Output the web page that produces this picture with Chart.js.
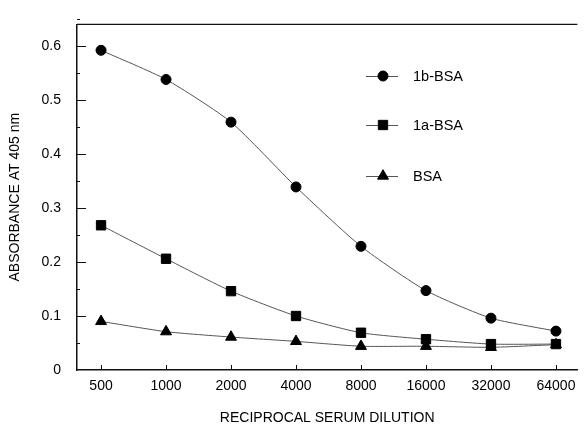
<!DOCTYPE html>
<html lang="en">
<head>
    <meta charset="UTF-8">
    <title>Absorbance vs Serum Dilution</title>
    <script src="https://cdn.jsdelivr.net/npm/chart.js"></script>
    <style>
        body { margin: 0; background: #fff; }
    </style>
</head>
<body>

    <canvas id="absChart" width="585" height="427"></canvas>

    <script>
        // Data
        var dilutions = ['500', '1000', '2000', '4000', '8000', '16000', '32000', '64000'];
        var seriesNames = ['1b-BSA', '1a-BSA', 'BSA'];
        var vals1b = [0.592, 0.538, 0.459, 0.339, 0.229, 0.147, 0.096, 0.072];
        var vals1a = [0.268, 0.206, 0.146, 0.100, 0.069, 0.057, 0.048, 0.048];
        var valsBsa = [0.090, 0.071, 0.061, 0.053, 0.044, 0.044, 0.042, 0.047];
        var yTicks = [0, 0.1, 0.2, 0.3, 0.4, 0.5, 0.6];
        var yTickLabels = ['0', '0.1', '0.2', '0.3', '0.4', '0.5', '0.6'];

        var FONT = '"Liberation Sans", Arial, sans-serif';

        function toPoints(arr) {
            return arr.map(function (v, i) { return { x: i, y: v }; });
        }

        // Inward tick marks, minor ticks and the top frame line
        var frameTicks = {
            id: 'frameTicks',
            afterDraw: function (chart) {
                var ctx = chart.ctx;
                var area = chart.chartArea;
                var xs = chart.scales.x, ys = chart.scales.y;
                ctx.save();
                ctx.strokeStyle = '#111';
                ctx.lineWidth = 1.2;
                ctx.beginPath();
                ctx.moveTo(area.left, area.top);
                ctx.lineTo(area.right, area.top);
                ctx.stroke();

                ctx.lineWidth = 1;
                ctx.beginPath();
                yTicks.forEach(function (v, i) {
                    var py = Math.round(ys.getPixelForValue(v)) + 0.5;
                    if (i > 0) {
                        ctx.moveTo(area.left, py);
                        ctx.lineTo(area.left + 9, py);
                    }
                    var pm = Math.round(ys.getPixelForValue(v + 0.05)) + 0.5;
                    ctx.moveTo(area.left, pm);
                    ctx.lineTo(area.left + 3, pm);
                });
                dilutions.forEach(function (d, i) {
                    var px = Math.round(xs.getPixelForValue(i)) + 0.5;
                    ctx.moveTo(px, area.bottom);
                    ctx.lineTo(px, area.bottom - 5);
                });
                ctx.stroke();
                ctx.restore();
            }
        };

        // Legend drawn inside the plot area
        var innerLegend = {
            id: 'innerLegend',
            afterDraw: function (chart) {
                var ctx = chart.ctx;
                var rows = [76, 125, 176];
                ctx.save();
                chart.data.datasets.forEach(function (ds, i) {
                    var y = rows[i];
                    ctx.strokeStyle = '#555';
                    ctx.lineWidth = 1;
                    ctx.beginPath();
                    ctx.moveTo(366, y + 0.5);
                    ctx.lineTo(398, y + 0.5);
                    ctx.stroke();
                    ctx.fillStyle = '#000';
                    ctx.strokeStyle = '#000';
                    Chart.helpers.drawPoint(ctx, {
                        pointStyle: ds.pointStyle,
                        radius: ds.pointRadius,
                        borderWidth: 1,
                        rotation: 0
                    }, 383, y);
                    ctx.fillStyle = '#000';
                    ctx.font = '14.5px ' + FONT;
                    ctx.textAlign = 'left';
                    ctx.textBaseline = 'middle';
                    ctx.fillText(ds.label, 413, y + 1);
                });
                ctx.restore();
            }
        };

        var lineStyle = {
            borderColor: '#555',
            borderWidth: 1,
            pointBackgroundColor: '#000',
            pointBorderColor: '#000',
            pointBorderWidth: 1,
            tension: 0.2,
            fill: false
        };

        var ctx = document.getElementById('absChart').getContext('2d');
        var myChart = new Chart(ctx, {
            type: 'line',
            data: {
                datasets: [
                    Object.assign({ label: seriesNames[0], data: toPoints(vals1b), pointStyle: 'circle', pointRadius: 5 }, lineStyle),
                    Object.assign({ label: seriesNames[1], data: toPoints(vals1a), pointStyle: 'rect', pointRadius: 6.6 }, lineStyle),
                    Object.assign({ label: seriesNames[2], data: toPoints(valsBsa), pointStyle: 'triangle', pointRadius: 6.3 }, lineStyle)
                ]
            },
            options: {
                responsive: false,
                animation: false,
                layout: { padding: { top: 11, right: 0, left: 0, bottom: 0 } },
                plugins: {
                    legend: { display: false },
                    tooltip: { enabled: false }
                },
                scales: {
                    x: {
                        type: 'linear',
                        min: -0.37,
                        max: 7.33,
                        afterBuildTicks: function (scale) {
                            scale.ticks = dilutions.map(function (d, i) { return { value: i }; });
                        },
                        afterFit: function (scale) { scale.height = 57; },
                        grid: { display: false, drawTicks: false },
                        border: { display: true, color: '#111', width: 1.5 },
                        ticks: {
                            padding: 8,
                            maxRotation: 0,
                            color: '#000',
                            font: { family: FONT, size: 14 },
                            callback: function (v) { return dilutions[v]; }
                        },
                        title: {
                            display: true,
                            text: 'RECIPROCAL SERUM DILUTION',
                            color: '#000',
                            font: { family: FONT, size: 14 },
                            padding: { top: 0, bottom: 0 }
                        }
                    },
                    y: {
                        min: 0,
                        max: 0.64,
                        afterBuildTicks: function (scale) {
                            scale.ticks = yTicks.map(function (v) { return { value: v }; });
                        },
                        afterFit: function (scale) { scale.width = 77; },
                        grid: { display: false, drawTicks: false },
                        border: { display: true, color: '#111', width: 1.5 },
                        ticks: {
                            padding: 16,
                            color: '#000',
                            font: { family: FONT, size: 14 },
                            callback: function (v, i) { return yTickLabels[i]; }
                        },
                        title: {
                            display: true,
                            text: 'ABSORBANCE AT 405 nm',
                            color: '#000',
                            font: { family: FONT, size: 14 },
                            padding: { top: 7, bottom: 0 }
                        }
                    }
                }
            },
            plugins: [frameTicks, innerLegend]
        });
    </script>

</body>
</html>
